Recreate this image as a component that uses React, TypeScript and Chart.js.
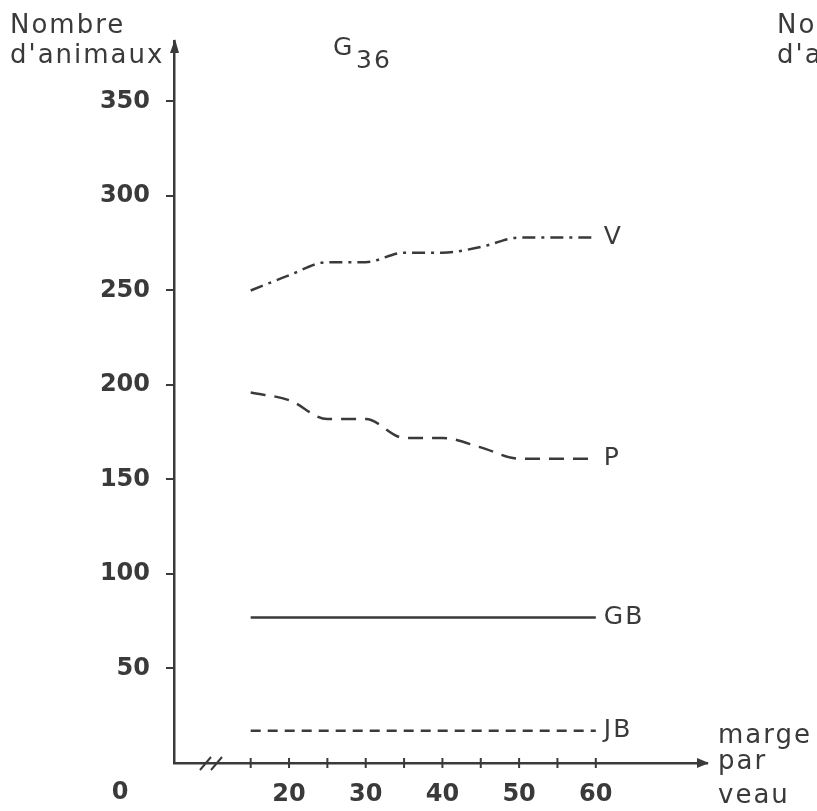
import React, { useEffect, useRef } from 'react';
import { Chart, registerables } from 'chart.js';

Chart.register(...registerables);

// ---- data ----
const marginPerCalf = [15, 20, 25, 30, 35, 40, 45, 50, 55, 60];
const seriesV = [250, 258, 265, 265, 270, 270, 273, 278, 278, 278];
const seriesP = [196, 192, 182, 182, 172, 172, 167, 161, 161, 161];
const seriesGB = [77, 77, 77, 77, 77, 77, 77, 77, 77, 77];
const seriesJB = [17, 17, 17, 17, 17, 17, 17, 17, 17, 17];
const seriesNames = ['V', 'P', 'GB', 'JB'];
const yTickValues = [50, 100, 150, 200, 250, 300, 350];
const xTickLabels = [20, 30, 40, 50, 60];
const xTickMarks = [15, 20, 25, 30, 35, 40, 45, 50, 55, 60];
const yAxisTitle = ['Nombre', "d'animaux"];
const xAxisTitle = ['marge', 'par', 'veau'];
const chartTitle = 'G';
const chartTitleSub = '36';
const originLabel = '0';

const INK = '#3a3a3a';
const TEXT_FONT = '"DejaVu Sans", sans-serif';

const decorPlugin = {
  id: 'decor',
  afterDraw(chart: any) {
    const { ctx, chartArea, scales } = chart;
    const xs = scales.x;
    const x0 = chartArea.left;
    const y0 = chartArea.bottom;
    ctx.save();
    ctx.strokeStyle = INK;
    ctx.fillStyle = INK;
    ctx.lineWidth = 2;

    // x tick marks crossing the axis
    xTickMarks.forEach((v) => {
      const px = xs.getPixelForValue(v);
      ctx.beginPath();
      ctx.moveTo(px, y0 - 5);
      ctx.lineTo(px, y0 + 5);
      ctx.stroke();
    });

    // axis break "//"
    [26, 37].forEach((dx) => {
      ctx.beginPath();
      ctx.moveTo(x0 + dx, y0 + 7);
      ctx.lineTo(x0 + dx + 11, y0 - 6);
      ctx.stroke();
    });

    // arrow heads
    ctx.beginPath();
    ctx.moveTo(x0 + 1, chartArea.top - 2);
    ctx.lineTo(x0 - 4, chartArea.top + 12);
    ctx.lineTo(x0 + 5, chartArea.top + 12);
    ctx.closePath();
    ctx.fill();

    const xr = chartArea.right;
    ctx.beginPath();
    ctx.moveTo(xr + 2, y0);
    ctx.lineTo(xr - 10, y0 - 5);
    ctx.lineTo(xr - 10, y0 + 5);
    ctx.closePath();
    ctx.fill();

    // series labels at the end of each line
    ctx.font = `25px ${TEXT_FONT}`;
    ctx.textAlign = 'left';
    ctx.textBaseline = 'middle';
    (ctx as any).letterSpacing = '2px';
    chart.data.datasets.forEach((ds: any, i: number) => {
      const meta = chart.getDatasetMeta(i);
      const pt = meta.data[meta.data.length - 1];
      ctx.fillText(ds.label, pt.x + 8, pt.y);
    });

    // titles
    ctx.font = `26px ${TEXT_FONT}`;
    (ctx as any).letterSpacing = '2px';
    ctx.textBaseline = 'alphabetic';
    ctx.fillText(yAxisTitle[0], 10, 33);
    ctx.fillText(yAxisTitle[1], 10, 63);
    ctx.fillText(yAxisTitle[0], 777, 33);
    ctx.fillText(yAxisTitle[1], 777, 63);

    ctx.font = `25px ${TEXT_FONT}`;
    ctx.fillText(chartTitle, 333, 55);
    ctx.fillText(chartTitleSub, 356, 68);

    ctx.font = `26px ${TEXT_FONT}`;
    ctx.fillText(xAxisTitle[0], 718, 743);
    ctx.fillText(xAxisTitle[1], 718, 769);
    ctx.fillText(xAxisTitle[2], 718, 803);

    // origin label
    (ctx as any).letterSpacing = '0px';
    ctx.font = `bold 24px ${TEXT_FONT}`;
    ctx.textAlign = 'center';
    ctx.textBaseline = 'top';
    ctx.fillText(originLabel, 120, y0 + 18);
    ctx.restore();
  },
};

const makePoints = (vals: number[]) => vals.map((v, i) => ({ x: marginPerCalf[i], y: v }));

export default function App() {
  const ref = useRef<HTMLCanvasElement | null>(null);
  useEffect(() => {
    if (!ref.current) return;
    const dashes = [[13, 6, 3, 6], [15, 9], [], [10, 7]];
    const values = [seriesV, seriesP, seriesGB, seriesJB];
    const chart = new Chart(ref.current, {
      type: 'line',
      data: {
        datasets: values.map((vals, i) => ({
          label: seriesNames[i],
          data: makePoints(vals),
          borderColor: INK,
          borderWidth: 2.5,
          borderDash: dashes[i],
          fill: false,
          pointRadius: 0,
          cubicInterpolationMode: 'monotone' as const,
        })),
      },
      options: {
        animation: false,
        responsive: false,
        layout: { padding: { left: 0, right: 110, top: 41, bottom: 0 } },
        plugins: {
          legend: { display: false },
          tooltip: { enabled: false },
          title: { display: false },
        },
        scales: {
          x: {
            type: 'linear',
            min: 5,
            max: 74.5,
            afterFit: (s: any) => {
              s.height = 48;
            },
            afterBuildTicks: (s: any) => {
              s.ticks = xTickLabels.map((v) => ({ value: v }));
            },
            grid: { display: true, drawOnChartArea: false, drawTicks: false, color: INK },
            border: { display: true, color: INK, width: 2.5 },
            ticks: {
              padding: 17,
              color: INK,
              autoSkip: false,
              maxRotation: 0,
              font: { family: TEXT_FONT, size: 24, weight: 'bold' },
            },
          },
          y: {
            min: 0,
            max: 382,
            afterFit: (s: any) => {
              s.width = 174;
            },
            afterBuildTicks: (s: any) => {
              s.ticks = yTickValues.map((v) => ({ value: v }));
            },
            grid: { display: true, drawOnChartArea: false, drawTicks: true, tickLength: 8, color: INK, lineWidth: 2 },
            border: { display: true, color: INK, width: 2.5 },
            ticks: {
              padding: 16,
              color: INK,
              font: { family: TEXT_FONT, size: 24, weight: 'bold' },
            },
          },
        },
      },
      plugins: [decorPlugin],
    });
    return () => chart.destroy();
  }, []);
  return (
    <div style={{ position: 'absolute', left: 0, top: 0, width: 817, height: 811, background: '#fff' }}>
      <canvas ref={ref} width={817} height={811} style={{ display: 'block' }} />
    </div>
  );
}
